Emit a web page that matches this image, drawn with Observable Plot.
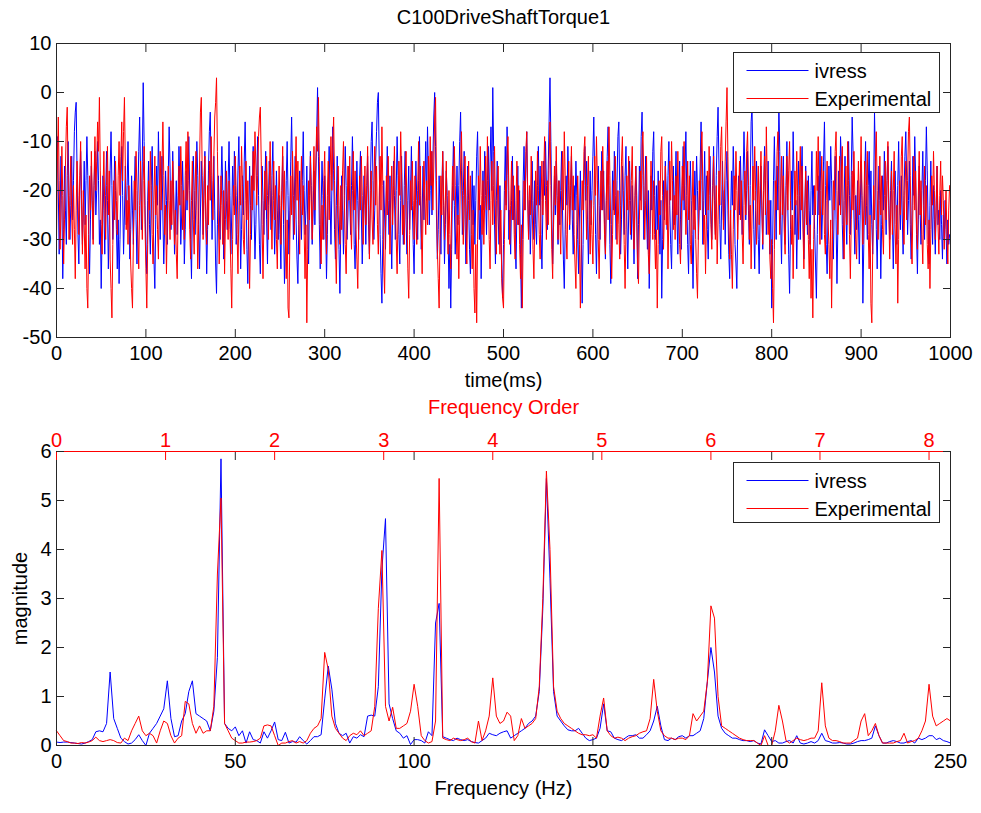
<!DOCTYPE html>
<html><head><meta charset="utf-8">
<script src="https://cdn.jsdelivr.net/npm/d3@7"></script>
<script src="https://cdn.jsdelivr.net/npm/@observablehq/plot@0.6"></script>
<style>body{margin:0;background:#fff;} #chart{width:981px;} #chart svg{display:block}</style>
</head><body><div id="chart"></div>
<script>
const chartTitle = "C100DriveShaftTorque1";
const seriesNames = ["ivress", "Experimental"];
const seriesColors = ["#0000ff", "#ff0000"];
const sampleStepMs = 1;

const ivressTorque = [
-18,-9,-20,-33,-25,-13,-22,-38,-28,-15,-24,-31,-17,-10,-21,-30,-23,-13,-26,-18,-8,-4,-2,-16,-29,-35,-22,-12,-20,-31,-24,-14,-27,-18,-9,-17,-29,-37,-26,-15,-23,-30,-19,-12,-25,-20,-10,-18,-31,-26,
-40,-29,-17,-24,-33,-21,-12,-22,-36,-27,-16,-8,-19,-30,-24,-13,-20,-28,-36,-26,-39,-30,-18,-11,-21,-33,-25,-15,-27,-19,-10,-22,-34,-28,-17,-24,-31,-20,-13,-26,-35,-22,-12,-5,-16,-28,-14,2,-10,-23,
-32,-37,-22,-14,-27,-33,-19,-11,-24,-34,-40,-26,-15,-23,-8,-18,-30,-21,-13,-25,-35,-27,-16,-22,-31,-17,-7,-15,-28,-24,-12,-20,-33,-26,-18,-29,-21,-11,-19,-31,-25,-14,-22,-35,-28,-16,-24,-18,-9,-20,
-30,-38,-24,-13,-20,-29,-22,-10,-17,-27,-36,-25,-14,-21,-29,-18,-12,-26,-37,-28,-16,-8,-4,-17,-30,-22,-13,-24,-35,-41,-27,-17,-24,-30,-19,-11,-20,-34,-26,-14,-22,-28,-18,-10,-21,-33,-25,-15,-23,-12,
-19,-31,-27,-16,-9,-22,-36,-28,-17,-25,-14,-6,-18,-32,-39,-26,-15,-23,-30,-20,-11,-24,-34,-27,-17,-9,-21,-31,-37,-25,-15,-22,-29,-19,-12,-26,-35,-23,-14,-20,-28,-17,-10,-22,-33,-26,-16,-24,-30,-21,
-29,-36,-22,-13,-27,-39,-31,-18,-10,-21,-33,-24,-14,-5,-17,-30,-22,-13,-26,-34,-39,-27,-16,-23,-30,-18,-8,-20,-29,-24,-15,-26,-35,-21,-12,-19,-31,-25,-16,-27,-18,-9,1,-13,-27,-36,-24,-14,-21,-30,
-17,-26,-38,-29,-18,-11,-22,-31,-20,-7,-16,-28,-34,-23,-13,-25,-32,-41,-27,-17,-24,-33,-21,-11,-19,-30,-25,-15,-22,-29,-19,-9,-18,-31,-36,-24,-14,-22,-30,-18,-12,-25,-35,-27,-17,-23,-31,-21,-13,-27,
-33,-20,-10,-6,-18,-30,-24,-14,-8,-2,0,-14,-29,-37,-43,-30,-18,-25,-32,-20,-11,-22,-29,-17,-27,-36,-24,-14,-21,-30,-20,-9,-17,-29,-35,-22,-13,-24,-31,-19,-12,-26,-33,-22,-15,-28,-20,-11,-23,-31,
-37,-24,-14,-22,-30,-18,-9,-21,-32,-25,-15,-26,-19,-10,-22,-7,-16,-27,-20,-12,-25,-14,-5,0,-11,-25,-34,-28,-17,-24,-33,-20,-12,-23,-35,-27,-16,-21,-29,-40,-31,-44,-32,-19,-10,-23,-33,-25,-15,-27,
-19,-10,-4,-16,-29,-21,-12,-26,-35,-24,-15,-22,-32,-37,-25,-16,-27,-19,-31,-22,-13,-8,-20,-30,-23,-38,-28,-16,-24,-12,-21,-29,-18,-11,-24,-14,-7,-20,1,-12,-27,-35,-22,-14,-25,-31,-19,-28,-36,-42,
-31,-20,-11,-23,-7,-17,-30,-24,-33,-22,-13,-26,-19,-31,-36,-24,-15,-27,-20,-33,-44,-30,-18,-11,-24,-16,-8,-20,-29,-22,-33,-25,-14,-22,-30,-18,-27,-31,-19,-11,-23,-15,-29,-36,-24,-14,-21,-10,-19,-28,
-16,-6,3,-10,-24,-35,-27,-17,-25,-14,-22,-31,-18,-27,-20,-12,-24,-34,-40,-28,-17,-23,-11,-19,-28,-21,-13,-26,-33,-19,-24,-14,-21,-30,-37,-25,-16,-28,-43,-31,-19,-11,-22,-14,-26,-35,-24,-16,-27,-20,
-13,-5,-17,-29,-37,-25,-15,-23,-30,-20,-12,-24,-16,-27,-34,-22,-13,-7,-19,-31,-39,-27,-16,-24,-12,-21,-30,-18,-9,-6,-20,-33,-26,-15,-23,-29,-17,-11,-26,-36,-25,-14,-22,-30,-19,-27,-35,-24,-15,-21,
-38,-27,-15,-22,-9,-4,-17,-30,-23,-13,-25,-32,-20,-40,-29,-17,-24,-12,-8,-21,-30,-19,-28,-16,-24,-33,-22,-42,-30,-18,-26,-14,-20,-28,-17,-10,-23,-31,-36,-24,-15,-27,-20,-12,-25,-33,-22,-14,-26,-32,
-19,-11,-24,-16,-8,-21,-31,-37,-24,-14,-22,-29,-40,-27,-16,-24,-13,-20,-30,-23,-15,-6,-18,-31,-22,-12,-25,-17,-28,-34,-21,-13,-24,-30,-19,-11,-22,-29,-17,-9,-3,-15,-27,-34,-23,-14,-26,-20,-31,-18,
-12,-24,-33,-38,-26,-16,-23,-11,-19,-31,-35,-40,-27,-17,-25,-13,-21,-29,-18,-8,-16,-26,-20,-12,-24,-31,-19,-6,-3,-15,-28,-36,-24,-14,-22,-30,-37,-25,-15,-23,-32,-20,-11,-18,-29,-24,-14,-26,-33,-22,
-44,-31,-18,-9,-21,-30,-15,-24,-2,-12,-26,-35,-22,-13,-25,-31,-19,-10,-23,-33,-41,-28,-16,-24,-8,-18,-29,-22,-36,-25,-14,-21,-30,-18,-11,-24,-34,-26,-15,-22,-29,-17,-24,-31,-20,-12,-25,-19,-28,-35,
-42,-29,-17,-25,-12,-20,-30,-23,-14,-6,-19,-31,-37,-25,-15,-22,-11,-18,-28,-34,-22,-13,-26,-39,-28,-16,-23,-9,-14,-27,-34,-22,-13,-24,-31,-19,-10,-21,-29,-17,-5,-12,-25,-33,-21,-28,-18,-26,-35,-24,
-14,-22,-43,-31,-18,-10,-23,-30,-19,-12,-25,-16,-27,-33,-21,-4,-14,-28,-36,-24,-15,-22,-38,-27,-17,-24,-12,-21,-29,-18,-11,-23,-30,-20,-14,-26,-36,-25,-16,-23,-31,-19,-10,-22,-28,-17,-25,-33,-21,-13,
-8,-18,-29,-22,-14,-27,-34,-24,-13,-21,-9,-17,-29,-37,-26,-15,-24,-31,-20,-12,-23,-30,-18,-7,-16,-28,-35,-23,-14,-25,-31,-19,-26,-33,-22,-15,-27,-24,-30,-20,-27,-34,-25,-30,-22,-28,-35,-26,-31,-29
];

const experimentalTorque = [
-30,-14,-5,-18,-32,-24,-11,-21,-35,-26,-15,-7,-3,-17,-30,-22,-13,-25,-31,-19,-28,-38,-24,-14,-21,-29,-17,-10,-23,-33,-20,-27,-36,-25,-40,-44,-29,-17,-24,-12,-22,-31,-18,-9,-20,-14,-6,-12,-1,-16,
-27,-33,-20,-12,-24,-30,-19,-11,-25,-16,-34,-40,-46,-31,-18,-26,-14,-22,-29,-17,-10,-21,-13,-6,-18,-8,-1,-15,-28,-22,-31,-19,-26,-35,-40,-44,-30,-18,-24,-12,-20,-29,-36,-23,-14,-22,-30,-18,-11,-27,
-36,-44,-31,-18,-24,-12,-20,-29,-35,-22,-13,-25,-19,-28,-34,-21,-12,-24,-15,-6,-17,-29,-23,-37,-26,-15,-22,-30,-18,-27,-14,-21,-31,-24,-33,-38,-25,-15,-23,-11,-19,-28,-20,-30,-17,-10,-22,-8,-18,-28,
-34,-22,-14,-26,-33,-20,-12,-24,-36,-27,-15,-4,-1,-17,-30,-22,-13,-26,-31,-19,-27,-14,-22,-9,-18,-26,-13,-5,-2,3,-12,-25,-35,-27,-17,-23,-31,-20,-37,-26,-16,-24,-30,-18,-28,-36,-44,-30,-19,-25,
-13,-21,-29,-37,-24,-15,-23,-11,-19,-30,-33,-22,-14,-26,-18,-28,-40,-29,-17,-24,-12,-20,-8,-15,-23,-17,-9,-5,-3,-14,-27,-38,-26,-16,-24,-13,-21,-30,-19,-10,-23,-32,-21,-14,-26,-19,-30,-36,-24,-15,
-23,-31,-20,-11,-24,-16,-30,-38,-26,-44,-46,-30,-17,-25,-12,-21,-29,-18,-9,-22,-14,-26,-33,-21,-13,-25,-19,-28,-38,-27,-47,-32,-18,-26,-13,-22,-30,-20,-11,-24,-15,-7,-12,-1,-14,-27,-35,-23,-30,-18,
-12,-24,-33,-21,-14,-26,-17,-9,-20,-11,-5,-18,-30,-39,-26,-15,-23,-31,-19,-28,-16,-10,-22,-31,-37,-25,-15,-22,-13,-26,-32,-20,-12,-24,-16,-28,-34,-40,-27,-17,-24,-13,-21,-31,-22,-15,-27,-19,-11,-23,
-34,-25,-16,-26,-31,-20,-11,-23,-15,-27,-33,-21,-13,-24,-7,-19,-35,-41,-28,-17,-25,-13,-22,-33,-24,-15,-27,-19,-11,-23,-30,-37,-25,-14,-21,-8,-17,-29,-23,-31,-19,-12,-25,-36,-42,-29,-18,-24,-14,-22,
-30,-17,-25,-31,-20,-10,-23,-15,-27,-37,-24,-14,-21,-29,-18,-27,-13,-22,-9,-19,-12,-24,-15,-5,-1,-18,-32,-38,-44,-29,-17,-25,-12,-21,-30,-22,-14,-26,-33,-20,-29,-36,-24,-15,-22,-11,-19,-27,-34,-25,
-38,-26,-15,-8,-20,-31,-22,-13,-27,-35,-21,-14,-26,-17,-29,-36,-24,-40,-45,-31,-47,-30,-17,-24,-11,-21,-29,-18,-31,-22,-13,-24,-9,-18,-30,-36,-22,-14,-27,-19,-11,-25,-33,-21,-15,-26,-33,-24,-38,-42,
-44,-30,-18,-24,-13,-9,-20,-31,-23,-14,-26,-17,-29,-34,-22,-14,-27,-19,-31,-38,-27,-44,-30,-18,-24,-12,-8,-21,-30,-19,-25,-13,-22,-32,-38,-26,-16,-23,-12,-20,-29,-34,-22,-14,-25,-17,-9,-22,-30,-18,
-27,-14,-6,-19,-32,-38,-25,-15,-23,-11,-21,-30,-18,-26,-33,-20,-12,-24,-8,-17,-29,-34,-22,-14,-27,-19,-11,-24,-17,-29,-35,-40,-27,-17,-25,-31,-44,-30,-18,-24,-12,-9,-21,-30,-19,-13,-26,-33,-22,-29,
-35,-23,-13,-21,-9,-18,-30,-38,-26,-16,-24,-11,-20,-29,-33,-22,-14,-26,-7,-17,-27,-38,-29,-18,-25,-13,-22,-31,-20,-27,-34,-23,-14,-9,-20,-31,-40,-28,-17,-24,-13,-22,-29,-18,-11,-24,-32,-21,-15,-26,
-35,-39,-26,-16,-24,-11,-8,-19,-30,-22,-13,-25,-33,-37,-24,-14,-22,-30,-18,-29,-36,-28,-44,-31,-18,-25,-12,-9,-21,-32,-24,-15,-27,-20,-36,-25,-14,-22,-10,-18,-28,-21,-30,-17,-25,-12,-23,-31,-35,-24,
-15,-22,-10,-19,-29,-23,-14,-26,-17,-31,-35,-24,-14,-28,-21,-30,-37,-42,-29,-18,-24,-12,-8,-20,-31,-25,-37,-26,-16,-24,-11,-19,-27,-32,-21,-13,-25,-30,-19,-35,-26,-16,-23,-11,-7,-19,-28,-22,-14,-6,
1,-13,-26,-34,-24,-33,-40,-28,-17,-24,-12,-20,-30,-21,-14,-26,-18,-29,-35,-23,-16,-25,-12,-8,-19,-30,-23,-36,-25,-15,-22,-11,-20,-31,-24,-15,-27,-19,-12,-24,-31,-20,-13,-25,-7,-18,-29,-22,-34,-38,
-30,-40,-47,-32,-18,-24,-12,-8,-19,-29,-22,-13,-25,-17,-28,-33,-21,-13,-24,-16,-10,-22,-31,-25,-38,-26,-16,-23,-12,-21,-30,-19,-11,-24,-15,-28,-36,-24,-16,-27,-18,-30,-38,-27,-42,-32,-46,-30,-19,-25,
-12,-20,-9,-22,-31,-20,-13,-25,-16,-29,-33,-22,-14,-26,-31,-38,-26,-44,-30,-18,-24,-12,-8,-20,-29,-22,-13,-25,-16,-11,-26,-34,-23,-15,-27,-10,-18,-29,-38,-26,-16,-24,-12,-21,-30,-34,-23,-14,-25,-18,
-9,-21,-31,-24,-14,-27,-19,-12,-29,-36,-25,-43,-47,-32,-19,-26,-14,-8,-20,-30,-22,-13,-25,-17,-28,-33,-21,-14,-26,-18,-10,-24,-34,-25,-16,-29,-20,-12,-27,-35,-23,-43,-30,-18,-25,-13,-9,-22,-31,-20,
-14,-26,-18,-8,-5,-17,-29,-35,-23,-13,-24,-16,-27,-32,-21,-12,-25,-18,-29,-35,-24,-15,-27,-19,-31,-36,-26,-40,-28,-17,-23,-12,-20,-30,-24,-15,-27,-33,-21,-14,-25,-17,-22,-32,-26,-20,-29,-35,-24,-19
];

// magnitude spectra, one value per 1 Hz bin from 0 to 250 Hz
const ivressSpectrum = [
0.07,0.06,0.07,0.07,0.06,0.05,0.04,0.03,0.05,0.08,
0.12,0.28,0.3,0.28,0.45,1.5,0.55,0.35,0.15,0.08,
0.03,0.05,0.12,0.22,0.1,0.0,0.25,0.35,0.45,0.6,
0.75,1.32,0.55,0.18,0.2,0.5,0.65,1.1,1.32,0.65,
0.6,0.55,0.5,0.3,0.7,1.8,5.85,0.45,0.35,0.3,
0.38,0.2,0.3,0.05,0.28,0.12,0.1,0.05,0.28,0.15,
0.3,0.48,0.12,0.1,0.27,0.05,0.08,0.07,0.18,0.1,
0.03,0.1,0.18,0.18,0.22,0.95,1.62,1.15,0.45,0.25,
0.2,0.25,0.05,0.18,0.15,0.22,0.18,0.6,0.62,0.6,
1.2,3.6,4.63,0.85,0.55,0.3,0.25,0.15,0.2,0.02,
0.12,0.12,0.1,0.05,0.28,0.2,2.5,2.9,0.18,0.15,
0.12,0.1,0.15,0.12,0.1,0.12,0.08,0.06,0.05,0.1,
0.15,0.25,0.22,0.2,0.25,0.28,0.3,0.15,0.2,0.25,
0.3,0.35,0.45,0.5,0.6,1.1,2.8,5.45,3.4,1.1,
0.6,0.5,0.4,0.32,0.3,0.3,0.35,0.25,0.15,0.1,
0.12,0.15,0.35,0.85,0.3,0.28,0.15,0.12,0.1,0.15,
0.2,0.2,0.22,0.15,0.15,0.22,0.3,0.5,0.8,0.4,
0.12,0.1,0.15,0.12,0.18,0.2,0.15,0.2,0.2,0.25,
0.3,0.55,1.3,2.0,1.5,0.6,0.35,0.25,0.2,0.15,
0.15,0.12,0.1,0.1,0.08,0.1,0.05,0.03,0.32,0.2,
0.08,0.1,0.05,0.05,0.08,0.1,0.05,0.2,0.05,0.03,
0.05,0.08,0.05,0.1,0.25,0.1,0.08,0.05,0.05,0.06,
0.05,0.03,0.03,0.05,0.08,0.1,0.1,0.12,0.15,0.4,
0.2,0.05,0.05,0.08,0.1,0.08,0.05,0.05,0.08,0.1,
0.05,0.15,0.12,0.15,0.2,0.2,0.12,0.15,0.1,0.08,
0.05
];

const experimentalSpectrum = [
0.3,0.2,0.1,0.08,0.05,0.05,0.04,0.06,0.05,0.07,
0.1,0.17,0.1,0.08,0.1,0.12,0.1,0.06,0.05,0.15,
0.1,0.3,0.45,0.6,0.3,0.2,0.25,0.2,0.05,0.3,
0.5,0.45,0.2,0.05,0.15,0.2,0.9,0.85,0.45,0.25,
0.4,0.25,0.3,0.3,0.8,3.5,5.05,0.45,0.3,0.15,
0.1,0.05,0.05,0.07,0.07,0.08,0.1,0.15,0.4,0.42,
0.4,0.2,0.0,0.05,0.05,0.08,0.1,0.05,0.08,0.05,
0.1,0.25,0.35,0.4,0.55,1.9,1.55,0.6,0.35,0.25,
0.15,0.1,0.2,0.25,0.22,0.3,0.2,0.25,0.3,0.8,
2.8,3.98,0.8,0.5,0.78,0.35,0.35,0.4,0.45,0.7,
1.25,0.8,0.2,0.1,0.05,0.08,0.5,5.45,0.15,0.12,
0.1,0.15,0.12,0.1,0.12,0.15,0.08,0.05,0.5,0.1,
0.3,0.6,1.38,0.6,0.45,0.5,0.68,0.6,0.1,0.2,
0.55,0.35,0.4,0.45,0.55,1.2,3.0,5.6,4.0,1.2,
0.7,0.55,0.45,0.4,0.35,0.3,0.25,0.22,0.22,0.2,
0.22,0.15,0.6,0.97,0.3,0.2,0.15,0.17,0.15,0.1,
0.15,0.18,0.2,0.25,0.28,0.3,0.55,1.35,0.7,0.3,
0.2,0.15,0.15,0.12,0.15,0.15,0.12,0.2,0.65,0.5,
0.6,0.7,1.3,2.85,2.6,1.0,0.4,0.35,0.3,0.25,
0.2,0.15,0.12,0.1,0.1,0.1,0.05,0.0,0.2,0.0,
0.0,0.3,0.82,0.5,0.1,0.05,0.1,0.15,0.12,0.1,
0.12,0.15,0.15,0.3,1.28,0.4,0.15,0.1,0.1,0.08,
0.05,0.05,0.05,0.1,0.15,0.5,0.65,0.2,0.3,0.45,
0.2,0.05,0.05,0.05,0.05,0.08,0.1,0.25,0.05,0.08,
0.1,0.15,0.3,0.5,1.25,0.6,0.4,0.45,0.5,0.55,
0.5
];

const timeTicks = [0,100,200,300,400,500,600,700,800,900,1000];
const torqueTicks = [-50,-40,-30,-20,-10,0,10];
const freqTicks = [0,50,100,150,200,250];
const magTicks = [0,1,2,3,4,5,6];
const orderTicks = [0,1,2,3,4,5,6,7,8];
const hzPerOrder = 30.5;

const topTexts = {xLabel: "time(ms)"};
const bottomTexts = {xLabel: "Frequency (Hz)", yLabel: "magnitude", topLabel: "Frequency Order"};

const font = "'Liberation Sans', Arial, Helvetica, sans-serif";
const axisColor = "#262626";
const W = 981;
const plain = d => String(d);

function timeRows(values) { return values.map((v, i) => ({t: i * sampleStepMs, v})); }
function freqRows(values) { return values.map((v, i) => ({f: i, v})); }

function addLegend(svg, frameTop, frameRight, gap) {
  const g = d3.select(svg).append("g");
  const w = 206, h = 60;
  const x0 = frameRight - 216.5, y0 = frameTop + gap + 0.5;
  g.append("rect").attr("x", x0).attr("y", y0).attr("width", w).attr("height", h)
    .attr("fill", "#fff").attr("stroke", axisColor);
  seriesNames.forEach((name, i) => {
    const y = Math.round(y0 + 17 + i * 28) + 0.5;
    g.append("line").attr("x1", x0 + 13).attr("x2", x0 + 75).attr("y1", y).attr("y2", y)
      .attr("stroke", seriesColors[i]).attr("stroke-width", 1);
    g.append("text").attr("x", x0 + 81).attr("y", y).attr("dy", "0.35em")
      .attr("text-anchor", "start")
      .attr("font-family", font).attr("font-size", 20).attr("fill", "#000").text(name);
  });
}

const topPlot = Plot.plot({
  width: W, height: 395, marginLeft: 56, marginRight: 31, marginTop: 43, marginBottom: 58,
  style: {fontFamily: font, fontSize: "20px", background: "#fff", color: "#000", overflow: "visible"},
  x: {domain: [timeTicks[0], timeTicks[timeTicks.length - 1]]},
  y: {domain: [torqueTicks[0], torqueTicks[torqueTicks.length - 1]]},
  marks: [
    Plot.line(timeRows(ivressTorque), {x: "t", y: "v", stroke: seriesColors[0], strokeWidth: 1}),
    Plot.line(timeRows(experimentalTorque), {x: "t", y: "v", stroke: seriesColors[1], strokeWidth: 1}),
    Plot.frame({stroke: axisColor}),
    Plot.axisX(timeTicks, {anchor: "bottom", tickSize: 0, tickPadding: 8, label: null, fontSize: 20, tickFormat: plain}),
    Plot.axisX(timeTicks, {anchor: "bottom", tickSize: -8, fill: "none", stroke: axisColor, label: null}),
    Plot.axisX(timeTicks, {anchor: "top", tickSize: -8, fill: "none", stroke: axisColor, label: null}),
    Plot.axisY(torqueTicks, {anchor: "left", tickSize: 0, tickPadding: 5, label: null, fontSize: 20, tickFormat: plain}),
    Plot.axisY(torqueTicks, {anchor: "left", tickSize: -8, fill: "none", stroke: axisColor, label: null}),
    Plot.axisY(torqueTicks, {anchor: "right", tickSize: -8, fill: "none", stroke: axisColor, label: null}),
    Plot.text([chartTitle], {frameAnchor: "top", lineAnchor: "middle", dy: -26, fontSize: 20, fill: "#000"}),
    Plot.text([topTexts.xLabel], {frameAnchor: "bottom", lineAnchor: "middle", dy: 43, fontSize: 20, fill: "#000"})
  ]
});
addLegend(topPlot, 43, W - 31, 9);

const bottomPlot = Plot.plot({
  width: W, height: 418, marginLeft: 56, marginRight: 31, marginTop: 56, marginBottom: 68,
  style: {fontFamily: font, fontSize: "20px", background: "#fff", color: "#000", overflow: "visible"},
  x: {domain: [freqTicks[0], freqTicks[freqTicks.length - 1]]},
  y: {domain: [magTicks[0], magTicks[magTicks.length - 1]]},
  marks: [
    Plot.line(freqRows(ivressSpectrum), {x: "f", y: "v", stroke: seriesColors[0], strokeWidth: 1}),
    Plot.line(freqRows(experimentalSpectrum), {x: "f", y: "v", stroke: seriesColors[1], strokeWidth: 1}),
    Plot.frame({stroke: axisColor}),
    Plot.ruleY([magTicks[magTicks.length - 1]], {stroke: seriesColors[1]}),
    Plot.axisX(freqTicks, {anchor: "bottom", tickSize: 0, tickPadding: 8, label: null, fontSize: 20, tickFormat: plain}),
    Plot.axisX(freqTicks, {anchor: "bottom", tickSize: -8, fill: "none", stroke: axisColor, label: null}),
    Plot.axisX(freqTicks.slice(1, -1), {anchor: "top", tickSize: -8, fill: "none", stroke: axisColor, label: null}),
    Plot.axisX(orderTicks.map(o => o * hzPerOrder), {anchor: "top", tickSize: 0, tickPadding: 5, label: null, fontSize: 20,
      fill: seriesColors[1], tickFormat: d => String(Math.round(d / hzPerOrder))}),
    Plot.axisX(orderTicks.map(o => o * hzPerOrder), {anchor: "top", tickSize: -8, fill: "none", stroke: seriesColors[1], label: null}),
    Plot.axisY(magTicks, {anchor: "left", tickSize: 0, tickPadding: 5, label: null, fontSize: 20, tickFormat: plain}),
    Plot.axisY(magTicks, {anchor: "left", tickSize: -8, fill: "none", stroke: axisColor, label: null}),
    Plot.axisY(magTicks, {anchor: "right", tickSize: -8, fill: "none", stroke: axisColor, label: null}),
    Plot.text([bottomTexts.topLabel], {frameAnchor: "top", lineAnchor: "middle", dy: -44, fontSize: 20, fill: seriesColors[1]}),
    Plot.text([bottomTexts.xLabel], {frameAnchor: "bottom", lineAnchor: "middle", dy: 43, fontSize: 20, fill: "#000"}),
    Plot.text([bottomTexts.yLabel], {frameAnchor: "left", lineAnchor: "middle", textAnchor: "middle", dx: -36, rotate: -90, fontSize: 20, fill: "#000"})
  ]
});
addLegend(bottomPlot, 56, W - 31, 11);

document.getElementById("chart").append(topPlot, bottomPlot);
</script>
</body></html>
